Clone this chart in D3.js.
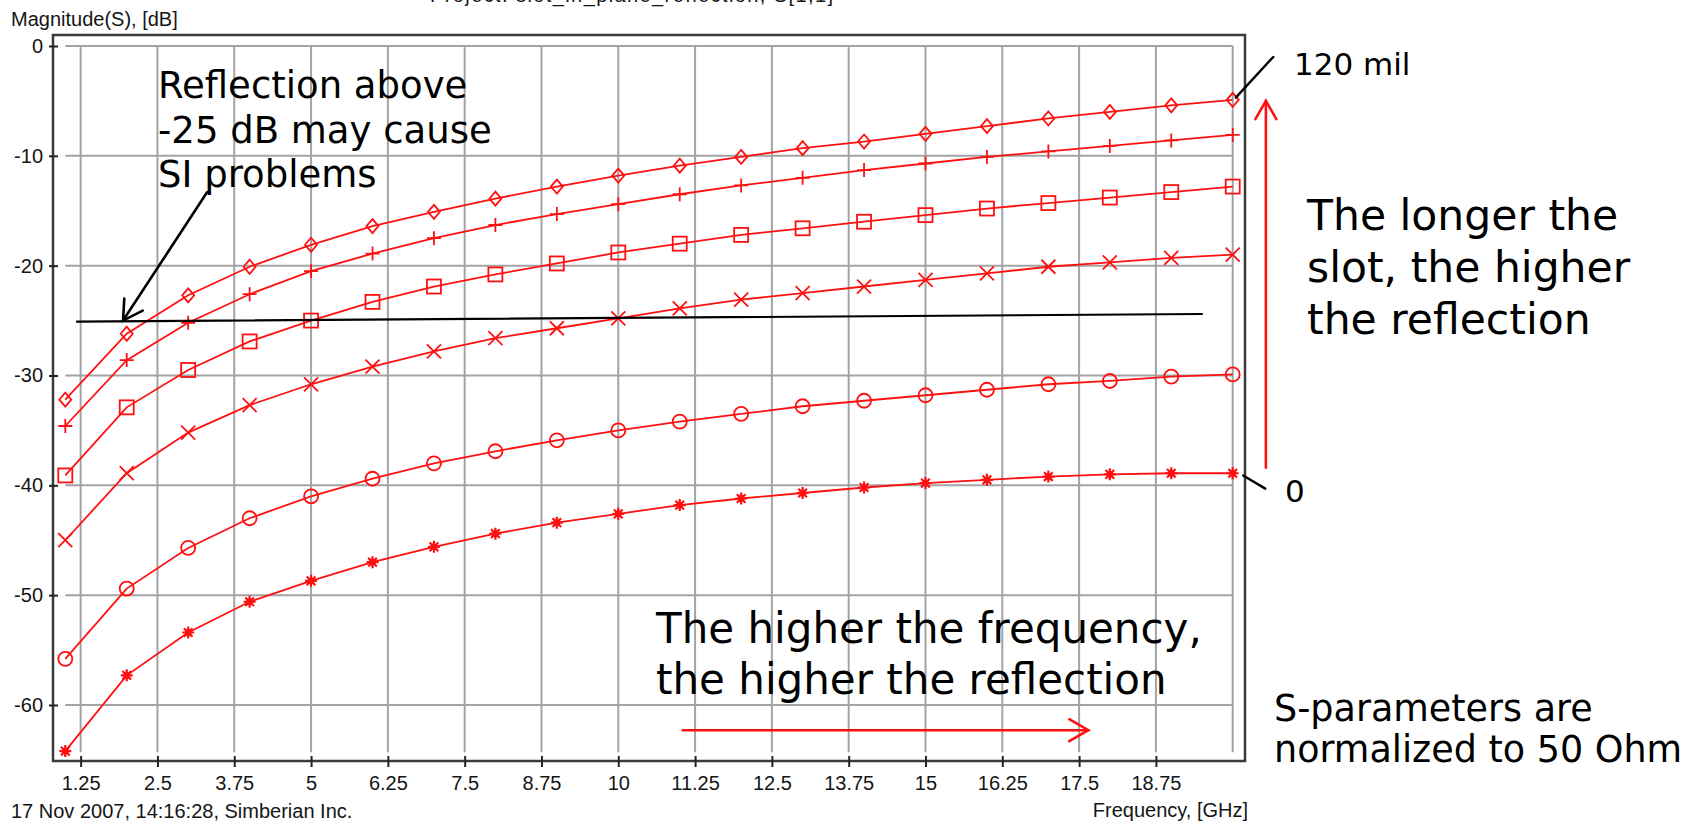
<!DOCTYPE html>
<html>
<head>
<meta charset="utf-8">
<script src="https://cdn.jsdelivr.net/npm/d3@7"></script>
<style>
  html, body { margin: 0; padding: 0; background: #fff; }
  svg { display: block; }
  .small { font-family: "Liberation Sans", Arial, sans-serif; font-size: 20px; fill: #151515; }
  .note { font-family: "DejaVu Sans", Verdana, sans-serif; fill: #000; }
</style>
</head>
<body>
<svg id="chart" width="1708" height="825"></svg>
<script>
// frequency points, GHz
const freqGHz = [1, 2, 3, 4, 5, 6, 7, 8, 9, 10, 11, 12, 13, 14, 15, 16, 17, 18, 19, 20];

// |S11| in dB, one list per slot length (longest slot on top)
const diamondDb = [-32.2, -26.2, -22.7, -20.1, -18.1, -16.4, -15.1, -13.9, -12.8, -11.8, -10.9, -10.1, -9.3, -8.7, -8.0, -7.3, -6.6, -6.0, -5.4, -4.9];
const plusDb    = [-34.6, -28.6, -25.2, -22.6, -20.5, -18.9, -17.5, -16.3, -15.3, -14.4, -13.5, -12.7, -12.0, -11.3, -10.7, -10.1, -9.6, -9.1, -8.6, -8.1];
const squareDb  = [-39.1, -32.9, -29.5, -26.9, -25.0, -23.3, -21.9, -20.8, -19.8, -18.8, -18.0, -17.2, -16.6, -16.0, -15.4, -14.8, -14.3, -13.8, -13.3, -12.8];
const crossDb   = [-45.0, -38.9, -35.2, -32.7, -30.8, -29.2, -27.8, -26.6, -25.7, -24.8, -23.9, -23.1, -22.5, -21.9, -21.3, -20.7, -20.1, -19.7, -19.3, -19.0];
const circleDb  = [-55.8, -49.4, -45.7, -43.0, -41.0, -39.4, -38.0, -36.9, -35.9, -35.0, -34.2, -33.5, -32.8, -32.3, -31.8, -31.3, -30.8, -30.5, -30.1, -29.9];
const starDb    = [-64.2, -57.3, -53.4, -50.6, -48.7, -47.0, -45.6, -44.4, -43.4, -42.6, -41.8, -41.2, -40.7, -40.2, -39.8, -39.5, -39.2, -39.0, -38.9, -38.9];

const xTicks = [1.25, 2.5, 3.75, 5, 6.25, 7.5, 8.75, 10, 11.25, 12.5, 13.75, 15, 16.25, 17.5, 18.75];
const yTicks = [0, -10, -20, -30, -40, -50, -60];

const series = [
  { marker: "diamond", values: diamondDb },
  { marker: "plus", values: plusDb },
  { marker: "square", values: squareDb },
  { marker: "cross", values: crossDb },
  { marker: "circle", values: circleDb },
  { marker: "star", values: starDb }
];

const svg = d3.select("#chart");
const red = "#ff1010";

const x = d3.scaleLinear().domain([0.8, 20.2]).range([53, 1245]);
const y = d3.scaleLinear().domain([-65.1, 1]).range([761, 35]);

// project title, cut by the top edge as in the screenshot
svg.append("text")
  .attr("class", "small")
  .attr("x", 430).attr("y", 2)
  .attr("fill", "#444")
  .attr("textLength", 403)
  .text("Project: slot_in_plane_reflection, S[1,1]");

svg.append("text")
  .attr("class", "small")
  .attr("font-size", 21)
  .attr("x", 11).attr("y", 26)
  .text("Magnitude(S), [dB]");

// grid
const grid = svg.append("g").attr("stroke", "#a3a3a3").attr("stroke-width", 2);
grid.selectAll(".h").data(yTicks).join("line")
  .attr("x1", x(1)).attr("x2", x(20))
  .attr("y1", d => y(d)).attr("y2", d => y(d));
grid.selectAll(".v").data(xTicks.concat([20])).join("line")
  .attr("x1", d => x(d)).attr("x2", d => x(d))
  .attr("y1", y(0)).attr("y2", y(-64.3));

// frame
svg.append("path")
  .attr("d", `M${x.range()[0]},${y.range()[0]} V${y.range()[1]} H${x.range()[1]} V${y.range()[0]} Z`)
  .attr("fill", "none")
  .attr("stroke", "#3a3a3a")
  .attr("stroke-width", 2.5);

// axes
const yAxis = svg.append("g")
  .attr("transform", `translate(${x.range()[0]},0)`)
  .call(d3.axisLeft(y).tickValues(yTicks).tickSize(4).tickPadding(6).tickFormat(d => String(d)));
const xAxis = svg.append("g")
  .attr("transform", `translate(0,${y.range()[0]})`)
  .call(d3.axisBottom(x).tickValues(xTicks).tickSize(6).tickPadding(9).tickFormat(d => String(d)));

[yAxis, xAxis].forEach(a => {
  a.select(".domain").remove();
  a.attr("font-family", null).attr("font-size", null);
  a.selectAll(".tick line").attr("stroke", "#222").attr("stroke-width", 2);
  a.selectAll(".tick text").attr("class", "small").attr("fill", "#151515");
});
yAxis.selectAll(".tick line").attr("x1", 5);
xAxis.selectAll(".tick line").attr("y1", -5);

svg.append("text")
  .attr("class", "small")
  .attr("x", 11).attr("y", 818)
  .text("17 Nov 2007, 14:16:28, Simberian Inc.");
svg.append("text")
  .attr("class", "small")
  .attr("x", 1248).attr("y", 817)
  .attr("text-anchor", "end")
  .text("Frequency, [GHz]");

// curves
const line = d3.line().x((d, i) => x(freqGHz[i])).y(d => y(d));
const plot = svg.append("g");

function drawMarker(g, kind) {
  const s = 7;
  if (kind === "diamond") {
    g.append("path").attr("d", `M0,${-s} L${s - 1},0 L0,${s} L${-(s - 1)},0 Z`);
  } else if (kind === "plus") {
    g.append("path").attr("d", `M${-s},0 H${s} M0,${-s} V${s}`);
  } else if (kind === "square") {
    g.append("rect").attr("x", -s).attr("y", -s).attr("width", 2 * s).attr("height", 2 * s);
  } else if (kind === "cross") {
    g.append("path").attr("d", `M${-s},${-s} L${s},${s} M${-s},${s} L${s},${-s}`);
  } else if (kind === "circle") {
    g.append("circle").attr("r", s);
  } else if (kind === "star") {
    const r = 6, q = r * 0.72;
    g.append("path")
      .attr("stroke-width", 2.2)
      .attr("d", `M${-r},0 H${r} M0,${-r} V${r} M${-q},${-q} L${q},${q} M${-q},${q} L${q},${-q}`);
    g.append("circle").attr("r", 2.5).attr("fill", red);
  }
}

series.forEach(s => {
  plot.append("path")
    .datum(s.values)
    .attr("fill", "none")
    .attr("stroke", red)
    .attr("stroke-width", 1.8)
    .attr("d", line);
  plot.append("g").selectAll("g").data(s.values).join("g")
    .attr("transform", (d, i) => `translate(${x(freqGHz[i])},${y(d)})`)
    .attr("fill", "none")
    .attr("stroke", red)
    .attr("stroke-width", 1.8)
    .each(function () { drawMarker(d3.select(this), s.marker); });
});

// annotations (positions given in chart units)
const thresholdLine = [[1.19, -25.1], [19.5, -24.4]];
const siArrow = [[3.31, -13.3], [1.94, -25.0]];
const label120Line = [[20.66, -1.0], [20.05, -4.7]];
const label0Line = [[20.17, -39.1], [20.53, -40.3]];
const vArrow = [[20.54, -38.4], [20.54, -5.0]];
const hArrow = [[11.05, -62.3], [17.65, -62.3]];

const ann = svg.append("g").attr("fill", "none").attr("stroke-linecap", "round");

function seg(pts, color, w) {
  ann.append("path")
    .attr("d", d3.line().x(p => x(p[0])).y(p => y(p[1]))(pts))
    .attr("stroke", color).attr("stroke-width", w);
}
function arrow(pts, color, w, len) {
  seg(pts, color, w);
  const x0 = x(pts[0][0]), y0 = y(pts[0][1]);
  const x1 = x(pts[1][0]), y1 = y(pts[1][1]);
  const a = Math.atan2(y0 - y1, x0 - x1);
  const h = Math.PI / 6;
  ann.append("path")
    .attr("d", `M${x1 + len * Math.cos(a + h)},${y1 + len * Math.sin(a + h)} L${x1},${y1} L${x1 + len * Math.cos(a - h)},${y1 + len * Math.sin(a - h)}`)
    .attr("stroke", color).attr("stroke-width", w).attr("stroke-linejoin", "miter");
}

seg(thresholdLine, "#000", 2.2);
arrow(siArrow, "#000", 2.6, 22);
seg(label120Line, "#000", 2.4);
seg(label0Line, "#000", 2.4);
arrow(vArrow, red, 2.6, 21);
arrow(hArrow, red, 2.6, 22);

// notes
function note(lines, x0, y0, size, gap) {
  const t = svg.append("text").attr("class", "note").attr("font-size", size);
  lines.forEach((l, i) => t.append("tspan").attr("x", x0).attr("y", y0 + i * gap).text(l));
}
note(["Reflection above", "-25 dB may cause", "SI problems"], 158, 98, 37, 44.6);
note(["120 mil"], 1294, 75, 31, 0);
note(["0"], 1285, 502, 31, 0);
note(["The longer the", "slot, the higher", "the reflection"], 1307, 230, 42.5, 52);
note(["The higher the frequency,", "the higher the reflection"], 656, 643, 42, 51);
note(["S-parameters are", "normalized to 50 Ohm"], 1274, 721, 36.5, 41);
</script>
</body>
</html>
